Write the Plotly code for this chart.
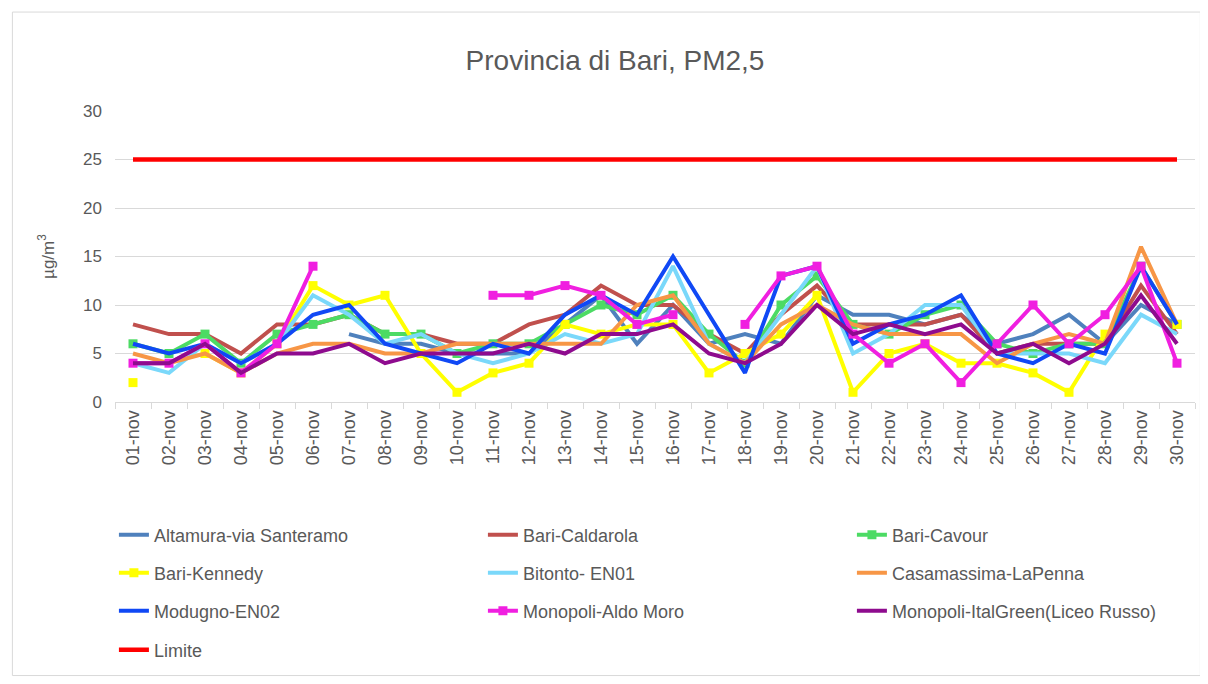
import plotly.graph_objects as go

days = [f"{d:02d}-nov" for d in range(1, 31)]
N = None

altamura = [N, N, N, N, N, N, 7, 6, 6, 5, 5, 5, 8, 11, 6, 10, 6, 7, 6, 11, 9, 9, 8, 9, 6, 7, 9, 6, 10, 8]
caldarola = [8, 7, 7, 5, 8, 8, 9, 7, 7, 6, 6, 8, 9, 12, 10, 10, 7, 5, 9, 12, 8, 8, 8, 9, 5, 6, 6, 6, 12, 7]
cavour = [6, 5, 7, 4, 7, 8, 9, 7, 7, 5, 6, 6, 8, 10, 9, 11, 7, 4, 10, 13, 8, 7, 9, 10, 6, 5, 6, 6, 14, 8]
kennedy = [2, N, 5, 3, 6, 12, 10, 11, 5, 1, 3, 4, 8, 7, 8, 8, 3, 5, 7, 11, 1, 5, 6, 4, 4, 3, 1, 7, N, 8]
bitonto = [4, 3, 6, 4, 6, 11, 9, 6, 7, 5, 4, 5, 7, 6, 7, 14, 6, 4, 9, 14, 5, 7, 10, 10, 5, 5, 5, 4, 9, 7]
casamassima = [5, 4, 5, 3, 5, 6, 6, 5, 5, 6, 6, 6, 6, 6, 10, 11, 6, 4, 8, 10, 8, 7, 7, 7, 4, 6, 7, 6, 16, 8]
modugno = [6, 5, 6, 4, 6, 9, 10, 6, 5, 4, 6, 5, 9, 11, 9, 15, 9, 3, 13, 14, 6, 8, 9, 11, 5, 4, 6, 5, 14, 8]
aldomoro = [4, 4, 6, 3, 6, 14, N, N, N, N, 11, 11, 12, 11, 8, 9, N, 8, 13, 14, 7, 4, 6, 2, 6, 10, 6, 9, 14, 4]
italgreen = [4, 4, 6, 3, 5, 5, 6, 4, 5, 5, 5, 6, 5, 7, 7, 8, 5, 4, 6, 10, 7, 8, 7, 8, 5, 6, 4, 6, 11, 6]
limite = [25] * 30

series = [
    ("Altamura-via Santeramo", altamura, "#4F81BD", False, "legend"),
    ("Bari-Caldarola", caldarola, "#C0504D", False, "legend"),
    ("Bari-Cavour", cavour, "#4CDB64", True, "legend"),
    ("Bari-Kennedy", kennedy, "#FFFF00", True, "legend2"),
    ("Bitonto- EN01", bitonto, "#7AD8FA", False, "legend2"),
    ("Casamassima-LaPenna", casamassima, "#F79646", False, "legend2"),
    ("Modugno-EN02", modugno, "#1048F5", False, "legend3"),
    ("Monopoli-Aldo Moro", aldomoro, "#F01FE0", True, "legend3"),
    ("Monopoli-ItalGreen(Liceo Russo)", italgreen, "#8E0B8E", False, "legend3"),
    ("Limite", limite, "#FF0000", False, "legend4"),
]

FONT = "Liberation Sans, Arial, sans-serif"
fig = go.Figure()
for name, vals, col, mk, lg in series:
    fig.add_trace(go.Scatter(
        x=days, y=vals, name=name, legend=lg,
        mode="lines+markers" if mk else "lines",
        line=dict(color=col, width=4.5 if name == "Limite" else 4),
        marker=dict(symbol="square", size=9, color=col),
        connectgaps=False,
    ))

# page body adds an 8px offset; margins compensate for it
OFF = 8
PT = 111 - OFF
PH = 291

def leg(ypix):
    return dict(orientation="h", x=-0.001, xanchor="left",
                y=(PT + PH - (ypix - OFF)) / PH, yanchor="middle",
                entrywidth=324, entrywidthmode="pixels", itemwidth=30,
                font=dict(size=18, color="#595959", family=FONT),
                bgcolor="rgba(0,0,0,0)", traceorder="normal")

fig.update_layout(
    width=1208, height=684,
    paper_bgcolor="white", plot_bgcolor="white",
    margin=dict(l=115 - OFF, r=13 + OFF, t=PT, b=684 - PT - PH, autoexpand=False),
    font=dict(family=FONT, color="#595959", size=17),
    title=dict(text="Provincia di Bari, PM2,5", x=(615 - OFF) / 1208, xanchor="center",
               y=1 - (60 - OFF) / 684, yanchor="middle",
               font=dict(size=28, color="#595959", family=FONT)),
    showlegend=True,
    legend=leg(535), legend2=leg(573), legend3=leg(611), legend4=leg(650),
    shapes=[dict(type="rect", xref="paper", yref="paper",
                 x0=-0.095, x1=1.005, y0=-0.94, y1=1.34,
                 line=dict(color="#D9D9D9", width=1), fillcolor="rgba(0,0,0,0)")],
)
fig.update_xaxes(type="category", categoryorder="array", categoryarray=days,
                 range=[-0.5, 29.5], tickangle=-90, showgrid=False,
                 showline=True, linecolor="#D9D9D9", linewidth=1,
                 ticks="outside", tickson="boundaries", ticklen=6, tickcolor="#D9D9D9",
                 tickfont=dict(size=18, color="#595959"))
fig.update_yaxes(range=[0, 30], dtick=5, showgrid=True, gridcolor="#D9D9D9", gridwidth=1.3,
                 zeroline=False, showline=False, ticks="", ticklabelstandoff=12,
                 title=dict(text="µg/m<sup>3</sup>", font=dict(size=17, color="#595959"), standoff=24),
                 tickfont=dict(size=17, color="#595959"))

fig.write_html("out.html")
